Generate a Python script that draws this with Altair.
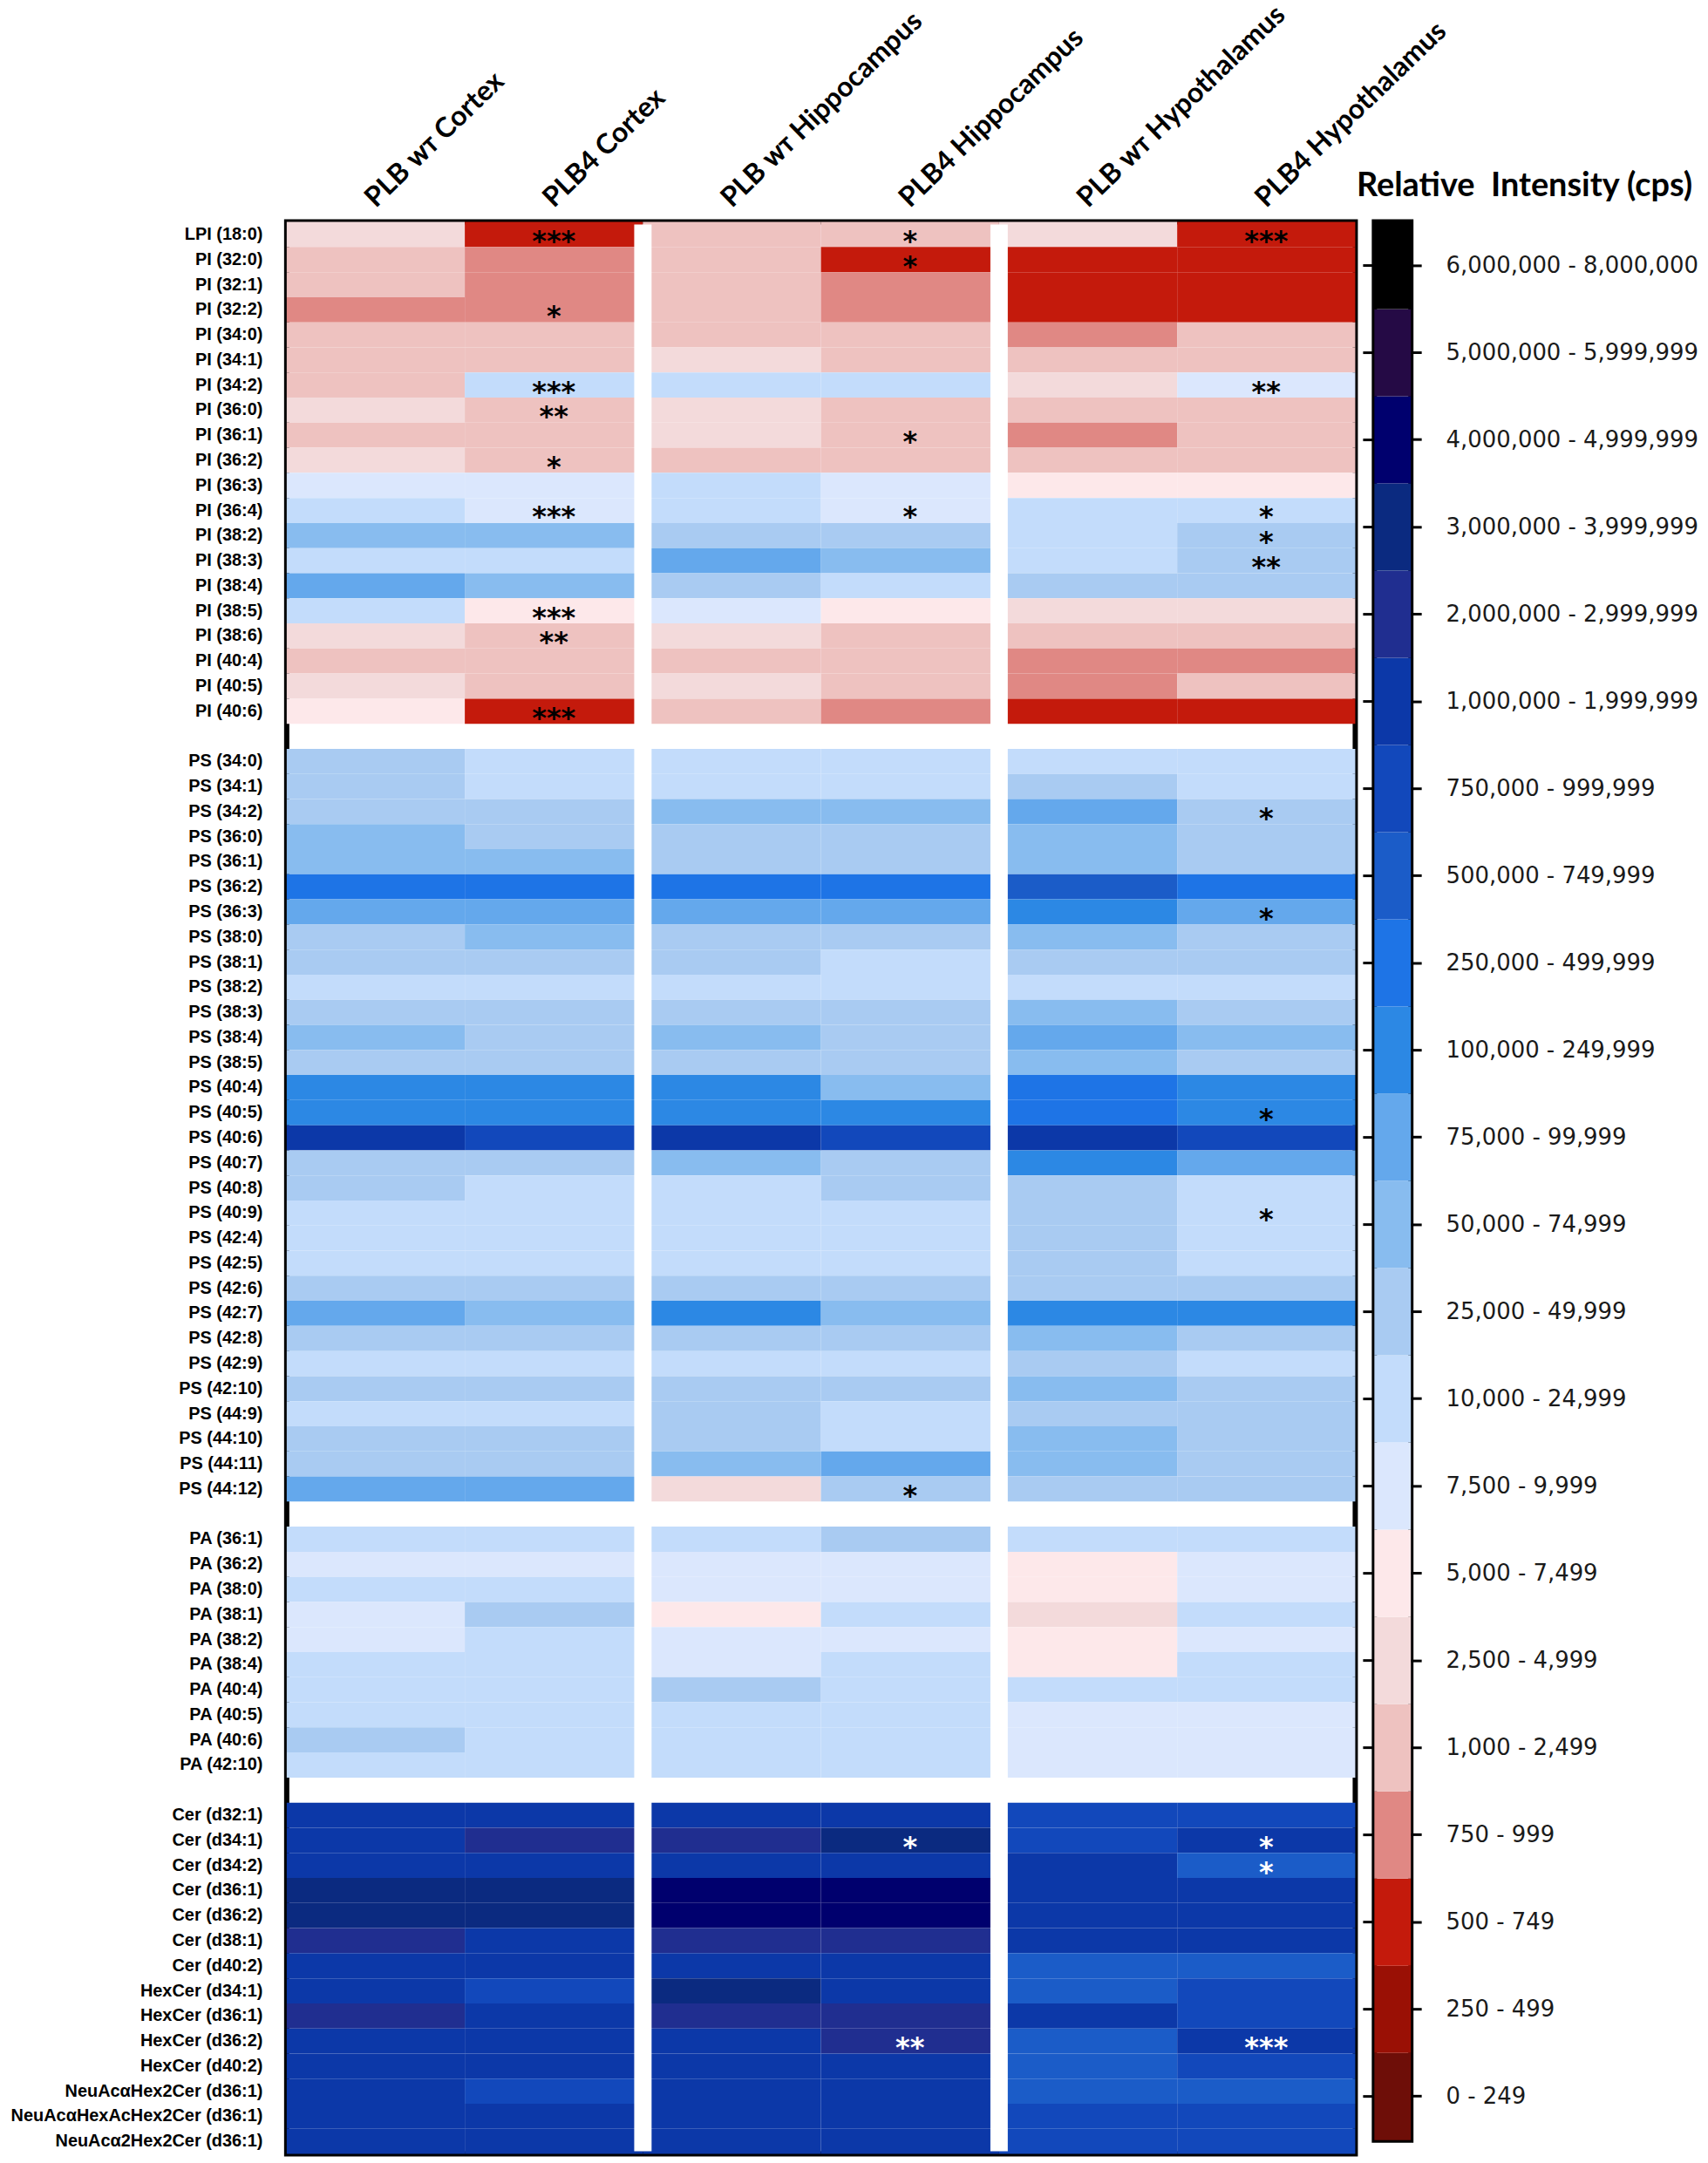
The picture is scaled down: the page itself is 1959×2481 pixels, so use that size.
import altair as alt
import pandas as pd

# ---------------- data ----------------
bin_labels = ["0 - 249", "250 - 499", "500 - 749", "750 - 999", "1,000 - 2,499",
              "2,500 - 4,999", "5,000 - 7,499", "7,500 - 9,999", "10,000 - 24,999",
              "25,000 - 49,999", "50,000 - 74,999", "75,000 - 99,999",
              "100,000 - 249,999", "250,000 - 499,999", "500,000 - 749,999",
              "750,000 - 999,999", "1,000,000 - 1,999,999", "2,000,000 - 2,999,999",
              "3,000,000 - 3,999,999", "4,000,000 - 4,999,999",
              "5,000,000 - 5,999,999", "6,000,000 - 8,000,000"]
bin_colors = ["#6e0e08", "#9a1005", "#c41a0c", "#e08884", "#eec2c0", "#f3dadb",
              "#fde8ea", "#dbe7fd", "#c3dcfb", "#a9cbf2", "#88bcef", "#64a8ec",
              "#2c88e4", "#1e74e6", "#1b5cc8", "#1248bb", "#0c38a8", "#202e90",
              "#0b2a80", "#00006e", "#250a45", "#000000"]

column_headers = ["PLB \u1d21\u1d1b Cortex", "PLB4 Cortex", "PLB \u1d21\u1d1b Hippocampus",
                  "PLB4 Hippocampus", "PLB \u1d21\u1d1b Hypothalamus", "PLB4 Hypothalamus"]
gap_before = [column_headers[2], column_headers[4]]   # white separators between regions

rows_PI = ["LPI (18:0)", "PI (32:0)", "PI (32:1)", "PI (32:2)", "PI (34:0)", "PI (34:1)",
           "PI (34:2)", "PI (36:0)", "PI (36:1)", "PI (36:2)", "PI (36:3)", "PI (36:4)",
           "PI (38:2)", "PI (38:3)", "PI (38:4)", "PI (38:5)", "PI (38:6)", "PI (40:4)",
           "PI (40:5)", "PI (40:6)"]
rows_PS = ["PS (34:0)", "PS (34:1)", "PS (34:2)", "PS (36:0)", "PS (36:1)", "PS (36:2)",
           "PS (36:3)", "PS (38:0)", "PS (38:1)", "PS (38:2)", "PS (38:3)", "PS (38:4)",
           "PS (38:5)", "PS (40:4)", "PS (40:5)", "PS (40:6)", "PS (40:7)", "PS (40:8)",
           "PS (40:9)", "PS (42:4)", "PS (42:5)", "PS (42:6)", "PS (42:7)", "PS (42:8)",
           "PS (42:9)", "PS (42:10)", "PS (44:9)", "PS (44:10)", "PS (44:11)", "PS (44:12)"]
rows_PA = ["PA (36:1)", "PA (36:2)", "PA (38:0)", "PA (38:1)", "PA (38:2)", "PA (38:4)",
           "PA (40:4)", "PA (40:5)", "PA (40:6)", "PA (42:10)"]
rows_Cer = ["Cer (d32:1)", "Cer (d34:1)", "Cer (d34:2)", "Cer (d36:1)", "Cer (d36:2)",
            "Cer (d38:1)", "Cer (d40:2)", "HexCer (d34:1)", "HexCer (d36:1)",
            "HexCer (d36:2)", "HexCer (d40:2)", "NeuAc\u03b1Hex2Cer (d36:1)",
            "NeuAc\u03b1HexAcHex2Cer (d36:1)", "NeuAc\u03b12Hex2Cer (d36:1)"]

# intensity bin index (0 = "0 - 249" ... 21 = "6,000,000 - 8,000,000"), one list per column
bins_PI = [
    [5, 4, 4, 3, 4, 4, 4, 5, 4, 5, 7, 8, 10, 8, 11, 8, 5, 4, 5, 6],
    [2, 3, 3, 3, 4, 4, 8, 4, 4, 4, 7, 7, 10, 8, 10, 6, 4, 4, 4, 2],
    [4, 4, 4, 4, 4, 5, 8, 5, 5, 4, 8, 8, 9, 11, 9, 7, 5, 4, 5, 4],
    [4, 2, 3, 3, 4, 4, 8, 4, 4, 4, 7, 7, 9, 10, 8, 6, 4, 4, 4, 3],
    [5, 2, 2, 2, 3, 4, 5, 4, 3, 4, 6, 8, 8, 8, 9, 5, 4, 3, 3, 2],
    [2, 2, 2, 2, 4, 4, 7, 4, 4, 4, 6, 8, 9, 9, 9, 5, 4, 3, 4, 2],
]
bins_PS = [
    [9, 9, 9, 10, 10, 13, 11, 9, 9, 8, 9, 10, 9, 12, 12, 16, 9, 9, 8, 8, 8, 9, 11, 9, 8, 9, 8, 9, 9, 11],
    [8, 8, 9, 9, 10, 13, 11, 10, 9, 8, 9, 9, 9, 12, 12, 15, 9, 8, 8, 8, 8, 9, 10, 9, 8, 9, 8, 9, 9, 11],
    [8, 8, 10, 9, 9, 13, 11, 9, 9, 8, 9, 10, 9, 12, 12, 16, 10, 8, 8, 8, 8, 9, 12, 9, 8, 9, 9, 9, 10, 5],
    [8, 8, 10, 9, 9, 13, 11, 9, 8, 8, 9, 9, 9, 10, 12, 15, 9, 9, 8, 8, 8, 9, 10, 9, 8, 9, 8, 8, 11, 9],
    [8, 9, 11, 10, 10, 14, 12, 10, 9, 8, 10, 11, 10, 13, 13, 16, 12, 9, 9, 9, 9, 9, 12, 10, 9, 10, 9, 10, 10, 9],
    [8, 8, 9, 9, 9, 13, 11, 9, 9, 8, 9, 10, 9, 12, 12, 15, 11, 8, 8, 8, 8, 9, 12, 9, 8, 9, 9, 9, 9, 9],
]
bins_PA = [
    [8, 7, 8, 7, 7, 8, 8, 8, 9, 8],
    [8, 7, 8, 9, 8, 8, 8, 8, 8, 8],
    [8, 7, 7, 6, 7, 7, 9, 8, 8, 8],
    [9, 7, 7, 8, 7, 8, 8, 8, 8, 8],
    [8, 6, 6, 5, 6, 6, 8, 7, 7, 7],
    [8, 7, 7, 8, 7, 8, 8, 7, 7, 7],
]
bins_Cer = [
    [16, 16, 16, 18, 18, 17, 16, 16, 17, 16, 16, 16, 16, 16],
    [16, 17, 16, 18, 18, 16, 16, 15, 16, 16, 16, 15, 16, 16],
    [16, 17, 16, 19, 19, 17, 16, 18, 17, 16, 16, 16, 16, 16],
    [16, 18, 16, 19, 19, 17, 16, 16, 17, 17, 16, 16, 16, 16],
    [15, 15, 16, 16, 16, 16, 14, 14, 16, 14, 14, 14, 15, 15],
    [15, 16, 14, 16, 16, 16, 14, 15, 15, 16, 15, 14, 15, 15],
]

# significance marks: (row, column index, stars)
stars = [
    ("LPI (18:0)", 1, "***"), ("LPI (18:0)", 3, "*"), ("LPI (18:0)", 5, "***"),
    ("PI (32:0)", 3, "*"), ("PI (32:2)", 1, "*"),
    ("PI (34:2)", 1, "***"), ("PI (34:2)", 5, "**"),
    ("PI (36:0)", 1, "**"), ("PI (36:1)", 3, "*"), ("PI (36:2)", 1, "*"),
    ("PI (36:4)", 1, "***"), ("PI (36:4)", 3, "*"), ("PI (36:4)", 5, "*"),
    ("PI (38:2)", 5, "*"), ("PI (38:3)", 5, "**"),
    ("PI (38:5)", 1, "***"), ("PI (38:6)", 1, "**"), ("PI (40:6)", 1, "***"),
    ("PS (34:2)", 5, "*"), ("PS (36:3)", 5, "*"), ("PS (40:5)", 5, "*"),
    ("PS (40:9)", 5, "*"), ("PS (44:12)", 3, "*"),
    ("Cer (d34:1)", 3, "*"), ("Cer (d34:1)", 5, "*"), ("Cer (d34:2)", 5, "*"),
    ("HexCer (d36:2)", 3, "**"), ("HexCer (d36:2)", 5, "***"),
]

# ---------------- tables ----------------
records = []
for grp_rows, grp_bins in [(rows_PI, bins_PI), (rows_PS, bins_PS),
                           (rows_PA, bins_PA), (rows_Cer, bins_Cer)]:
    for ci, col in enumerate(column_headers):
        for r, b in zip(grp_rows, grp_bins[ci]):
            records.append({"row": r, "col": col, "level": bin_labels[b]})
df = pd.DataFrame(records)

star_rec = [{"row": r, "col": column_headers[c], "stars": s} for r, c, s in stars]
df_stars_dark = pd.DataFrame([d for d in star_rec if d["row"] not in rows_Cer])
df_stars_light = pd.DataFrame([d for d in star_rec if d["row"] in rows_Cer])
df_gap = pd.DataFrame({"col": gap_before})

y_domain = rows_PI + [" "] + rows_PS + ["  "] + rows_PA + ["   "] + rows_Cer

HEAT_W, HEAT_H = 1230, 2224

# ---------------- heatmap ----------------
x_scale = alt.Scale(domain=column_headers, paddingInner=0, paddingOuter=0)
x_axis = alt.Axis(orient="top", title=None, ticks=False, tickSize=0, domain=False,
                  labelAngle=-44, labelAlign="left", labelBaseline="alphabetic",
                  labelPadding=16, labelFont="Lato", labelFontSize=32,
                  labelFontWeight="bold", labelColor="black", labelLimit=0)
x_enc = alt.X("col:N", scale=x_scale, axis=x_axis)
y_enc = alt.Y("row:N", scale=alt.Scale(domain=y_domain, paddingInner=0, paddingOuter=0),
              axis=alt.Axis(title=None, ticks=False, domain=False, labelOverlap=False,
                            labelFont="Liberation Sans", labelFontSize=20, labelLimit=0,
                            labelFontWeight="bold", labelColor="black", labelPadding=28))
color_scale = alt.Scale(domain=bin_labels, range=bin_colors)

heat = alt.Chart(df).mark_rect().encode(
    x=x_enc, y=y_enc,
    color=alt.Color("level:N", scale=color_scale, legend=None),
)
gaps = alt.Chart(df_gap).mark_rule(color="white", strokeWidth=20).encode(
    x=alt.X("col:N", scale=x_scale, axis=x_axis, bandPosition=0),
    y=alt.value(3), y2=alt.value(HEAT_H - 3),
)
star_kw = dict(font="DejaVu Sans", fontSize=32, fontWeight="bold", baseline="alphabetic", dy=18)
star_dark = alt.Chart(df_stars_dark).mark_text(color="black", **star_kw).encode(
    x=x_enc, y=y_enc, text="stars:N")
star_light = alt.Chart(df_stars_light).mark_text(color="white", **star_kw).encode(
    x=x_enc, y=y_enc, text="stars:N")

heatmap = alt.layer(heat, gaps, star_dark, star_light).properties(
    width=HEAT_W, height=HEAT_H)

# ---------------- colour bar ----------------
leg_df = pd.DataFrame({"label": bin_labels})
leg_y = alt.Y("label:N", scale=alt.Scale(domain=bin_labels[::-1], paddingInner=0, paddingOuter=0),
              axis=alt.Axis(orient="right", title=None, domain=False, tickSize=12,
                            tickWidth=3, tickColor="black", labelPadding=28,
                            labelFont="DejaVu Sans", labelFontSize=26, labelLimit=0,
                            labelColor="#1a1a1a", labelOverlap=False))
bar = alt.Chart(leg_df).mark_rect().encode(
    y=leg_y,
    color=alt.Color("label:N", scale=color_scale, legend=None),
)
left_ticks = alt.Chart(leg_df).mark_rule(color="black", strokeWidth=3).encode(
    y=leg_y, x=alt.value(-13), x2=alt.value(-2),
)
colorbar = alt.layer(bar, left_ticks).properties(
    width=42, height=2208,
    title=alt.TitleParams("Relative\u00a0 Intensity (cps)", anchor="start",
                          font="Lato", fontSize=38, fontWeight="bold", color="black",
                          offset=22, dx=-6),
)

chart = alt.hconcat(heatmap, colorbar, spacing=22, bounds="flush").properties(
    padding={"left": 0, "top": -16, "right": 0, "bottom": 0}
).configure_view(stroke="black", strokeWidth=6)

chart.save("out.html", embed_options={"renderer": "svg", "actions": False})
